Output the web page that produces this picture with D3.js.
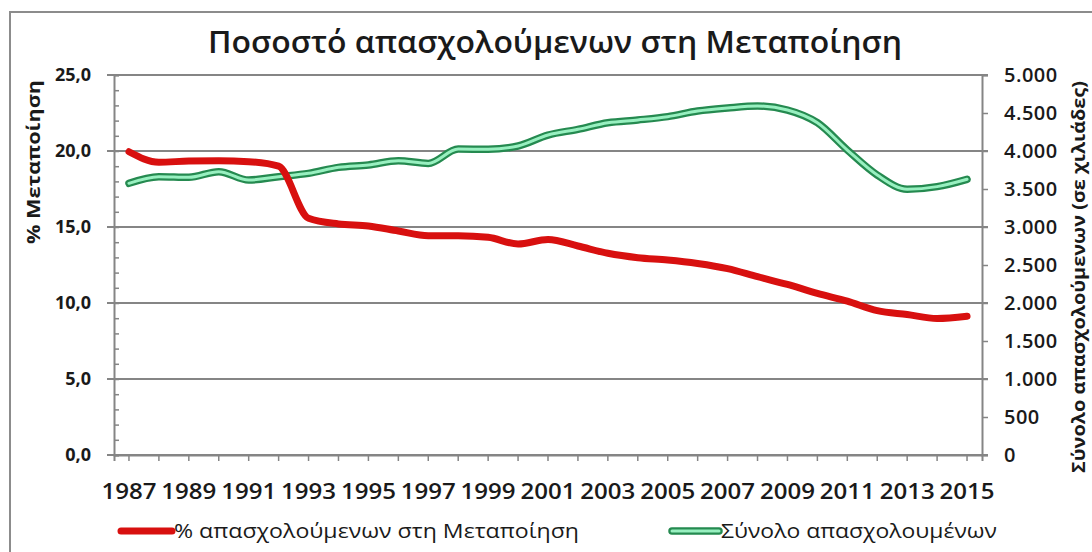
<!DOCTYPE html>
<html>
<head>
<meta charset="utf-8">
<script src="https://cdn.jsdelivr.net/npm/d3@7"></script>
<style>
  body { margin: 0; background: #fff; }
  text { font-family: "Open Sans", "DejaVu Sans", sans-serif; fill: #1a1a1a; }
</style>
</head>
<body>
<div id="chart"></div>
<script>
// years on the x axis
var years = [1987, 1988, 1989, 1990, 1991, 1992, 1993, 1994, 1995, 1996,
  1997, 1998, 1999, 2000, 2001, 2002, 2003, 2004, 2005, 2006, 2007, 2008,
  2009, 2010, 2011, 2012, 2013, 2014, 2015];

// % employed in manufacturing (left axis)
var share_manuf = [19.95, 19.26, 19.34, 19.36, 19.3, 19.0, 15.57, 15.2, 15.07,
  14.74, 14.43, 14.43, 14.32, 13.88, 14.18, 13.75, 13.27, 12.98, 12.83, 12.6,
  12.26, 11.73, 11.22, 10.63, 10.12, 9.5, 9.24, 8.98, 9.13];

// total employed in thousands (right axis)
var total_employed = [3575, 3662, 3654, 3728, 3618, 3662, 3706, 3785, 3816,
  3872, 3837, 4026, 4022, 4066, 4210, 4285, 4372, 4408, 4452, 4526, 4566,
  4592, 4539, 4372, 4013, 3684, 3496, 3531, 3628];

var left_ticks = [0, 5, 10, 15, 20, 25];
var right_ticks = [0, 500, 1000, 1500, 2000, 2500, 3000, 3500, 4000, 4500, 5000];
var year_labels = [1987, 1989, 1991, 1993, 1995, 1997, 1999, 2001, 2003, 2005,
  2007, 2009, 2011, 2013, 2015];

var title_str = "Ποσοστό απασχολούμενων στη Μεταποίηση";
var left_title = "% Μεταποίηση";
var right_title = "Σύνολο απασχολούμενων (σε χιλιάδες)";
var legend_str = ["% απασχολούμενων  στη Μεταποίηση", "Σύνολο απασχολουμένων"];

const width = 1092;
const height = 552;
var plot = { left: 114, right: 982, top: 75, bottom: 455 };

const svg = d3.select("#chart").append("svg")
  .attr("width", width)
  .attr("height", height);

// outer frame
svg.append("rect")
  .attr("x", 10).attr("y", 12)
  .attr("width", 1100).attr("height", 560)
  .attr("fill", "#fff")
  .attr("stroke", "#8c8c8c")
  .attr("stroke-width", 2);

var x = d3.scaleBand().domain(years).range([plot.left, plot.right]);
function xc(d) { return x(d) + x.bandwidth() / 2; }

var yL = d3.scaleLinear().domain([0, 25]).range([plot.bottom, plot.top]);
var yR = d3.scaleLinear().domain([0, 5000]).range([plot.bottom, plot.top]);

// gridlines (also the outward major ticks of the left axis)
svg.append("g").selectAll("line")
  .data(left_ticks)
  .enter().append("line")
  .attr("x1", plot.left - 7).attr("x2", plot.right + 6)
  .attr("y1", (d) => yL(d)).attr("y2", (d) => yL(d))
  .attr("stroke", "#858585")
  .attr("stroke-width", 2);

// left axis: line, minor ticks inside, labels
var leftAxis = svg.append("g")
  .attr("transform", "translate(" + plot.left + ",0)")
  .call(d3.axisRight(yL).ticks(25).tickSize(5).tickFormat(""));
leftAxis.selectAll("path").attr("stroke", "#858585").attr("stroke-width", 2);
leftAxis.selectAll("line").attr("stroke", "#858585").attr("stroke-width", 1.5);

svg.append("g").selectAll("text")
  .data(left_ticks)
  .enter().append("text")
  .attr("x", 91)
  .attr("y", (d) => yL(d) + 6)
  .attr("text-anchor", "end")
  .style("font-size", "18px")
  .style("font-weight", "700")
  .text((d) => d3.format(".1f")(d).replace(".", ","));

// right axis
var rightAxis = svg.append("g")
  .attr("transform", "translate(" + plot.right + ",0)")
  .call(d3.axisRight(yR).tickValues(right_ticks).tickSize(6).tickFormat(""));
rightAxis.selectAll("path").attr("stroke", "#858585").attr("stroke-width", 2);
rightAxis.selectAll("line").attr("stroke", "#858585").attr("stroke-width", 1.5);

svg.append("g").selectAll("text")
  .data(right_ticks)
  .enter().append("text")
  .attr("x", 1004)
  .attr("y", (d) => yR(d) + 7)
  .style("font-size", "20px")
  .style("font-weight", "600")
  .style("letter-spacing", "0.5px")
  .text((d) => d3.format(",")(d).replace(",", "."));

// bottom axis, ticks at each year
var bottomAxis = svg.append("g")
  .attr("transform", "translate(0," + plot.bottom + ")")
  .call(d3.axisBottom(x).tickSize(6).tickFormat(""));
bottomAxis.selectAll("path").attr("stroke", "#858585").attr("stroke-width", 2);
bottomAxis.selectAll("line").attr("stroke", "#858585").attr("stroke-width", 1.5);

svg.append("g").selectAll("text")
  .data(year_labels)
  .enter().append("text")
  .attr("x", (d) => xc(d))
  .attr("y", 499)
  .attr("text-anchor", "middle")
  .style("font-size", "21px")
  .style("font-weight", "600")
  .attr("textLength", 55)
  .attr("lengthAdjust", "spacingAndGlyphs")
  .text((d) => d);

// lines (smoothed like the excel chart)
var redLine = d3.line()
  .x((d, i) => xc(years[i]))
  .y((d) => yL(d))
  .curve(d3.curveMonotoneX);

var greenLine = d3.line()
  .x((d, i) => xc(years[i]))
  .y((d) => yR(d))
  .curve(d3.curveMonotoneX);

svg.append("path")
  .datum(total_employed)
  .attr("d", greenLine)
  .attr("fill", "none")
  .attr("stroke", "#258a50")
  .attr("stroke-width", 7.5)
  .attr("stroke-linecap", "round")
  .attr("stroke-linejoin", "round");
svg.append("path")
  .datum(total_employed)
  .attr("d", greenLine)
  .attr("fill", "none")
  .attr("stroke", "#98f0c0")
  .attr("stroke-width", 3)
  .attr("stroke-linecap", "round")
  .attr("stroke-linejoin", "round");

svg.append("path")
  .datum(share_manuf)
  .attr("d", redLine)
  .attr("fill", "none")
  .attr("stroke", "#d8100f")
  .attr("stroke-width", 7)
  .attr("stroke-linecap", "round")
  .attr("stroke-linejoin", "round");

// title
svg.append("text")
  .attr("x", 555)
  .attr("y", 53)
  .attr("text-anchor", "middle")
  .style("font-size", "31px")
  .style("font-weight", "600")
  .attr("textLength", 694)
  .attr("lengthAdjust", "spacingAndGlyphs")
  .text(title_str);

// axis titles
svg.append("text")
  .attr("transform", "translate(40,162) rotate(-90)")
  .attr("text-anchor", "middle")
  .style("font-size", "18px")
  .style("font-weight", "700")
  .attr("textLength", 164)
  .attr("lengthAdjust", "spacingAndGlyphs")
  .text(left_title);

svg.append("text")
  .attr("transform", "translate(1085,277) rotate(-90)")
  .attr("text-anchor", "middle")
  .style("font-size", "17px")
  .style("font-weight", "700")
  .attr("textLength", 392)
  .attr("lengthAdjust", "spacingAndGlyphs")
  .text(right_title);

// legend
svg.append("line")
  .attr("x1", 121).attr("x2", 172)
  .attr("y1", 531).attr("y2", 531)
  .attr("stroke", "#d8100f")
  .attr("stroke-width", 7)
  .attr("stroke-linecap", "round");
svg.append("text")
  .attr("x", 174).attr("y", 538)
  .style("font-size", "20px")
  .attr("textLength", 405)
  .attr("lengthAdjust", "spacingAndGlyphs")
  .text(legend_str[0]);

svg.append("line")
  .attr("x1", 672).attr("x2", 719)
  .attr("y1", 531).attr("y2", 531)
  .attr("stroke", "#258a50")
  .attr("stroke-width", 7.5)
  .attr("stroke-linecap", "round");
svg.append("line")
  .attr("x1", 672).attr("x2", 719)
  .attr("y1", 531).attr("y2", 531)
  .attr("stroke", "#98f0c0")
  .attr("stroke-width", 3)
  .attr("stroke-linecap", "round");
svg.append("text")
  .attr("x", 721).attr("y", 538)
  .style("font-size", "20px")
  .attr("textLength", 276)
  .attr("lengthAdjust", "spacingAndGlyphs")
  .text(legend_str[1]);
</script>
</body>
</html>
